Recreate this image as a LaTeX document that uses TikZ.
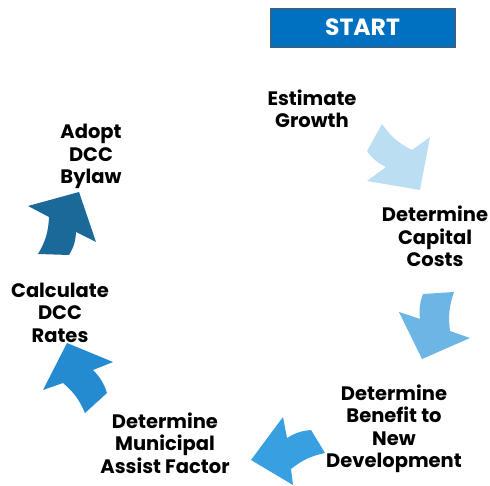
\documentclass[tikz,border=0pt]{standalone}
\usepackage{fontspec}
\setmainfont{Poppins}
\definecolor{startblue}{RGB}{0,112,192}
\definecolor{startedge}{RGB}{90,90,90}
\definecolor{stepA}{RGB}{187,222,243}
\definecolor{stepB}{RGB}{108,182,230}
\definecolor{stepC}{RGB}{56,160,224}
\definecolor{stepD}{RGB}{36,139,208}
\definecolor{stepE}{RGB}{27,105,153}
\begin{document}
\begin{tikzpicture}[x=1pt,y=-1pt,
  steplabel/.style={font=\fontsize{19.5}{22.5}\selectfont\bfseries,
    align=center, anchor=base, inner sep=0pt, text=black},
  startbox/.style={fill=startblue, draw=startedge, line width=0.8pt,
    minimum width=185pt, minimum height=39pt, inner sep=0pt,
    text=white, font=\fontsize{23.5}{26}\selectfont\bfseries}]
\useasboundingbox (0,0) rectangle (490,486);

% start marker
\node[startbox] (start) at (362.5,27.5) {START};

% step labels around the cycle (positioned by the baseline of the last line)
\node[steplabel] (growth)  at (312,128)   {Estimate\\Growth};
\node[steplabel] (capital) at (435,267)   {Determine\\Capital\\Costs};
\node[steplabel] (benefit) at (394,467.5) {Determine\\Benefit to\\New\\Development};
\node[steplabel] (assist)  at (165,473)   {Determine\\Municipal\\Assist Factor};
\node[steplabel] (rates)   at (60,342)    {Calculate\\DCC\\Rates};
\node[steplabel] (bylaw)   at (91,184)    {Adopt\\DCC\\Bylaw};

% curved block arrows between the steps
\fill[stepA] (382,124) to[bend right=14] (412,150) -- (430,137) -- (420,190)
  -- (367,181) -- (386,167) to[bend left=14] (367,151) -- cycle;
\fill[stepB] (454,292) to[bend right=13] (450,331) -- (470,338) -- (422,359)
  -- (399,312) -- (420,319) to[bend left=13] (423,294) -- cycle;
\fill[stepC] (325,453) to[bend right=13] (291,469) -- (293,485) -- (251,460)
  -- (283,417) -- (287,438) to[bend left=13] (311,430) -- cycle;
\fill[stepD] (85,413) to[bend right=13] (63,383) -- (43,390) -- (67,343)
  -- (113,362) -- (93,370) to[bend left=13] (107,393) -- cycle;
\fill[stepE] (38,254) to[bend right=14] (49,217) -- (28,206) -- (79,192)
  -- (96,242) -- (76,232) to[bend left=14] (69,255) -- cycle;
\end{tikzpicture}
\end{document}
